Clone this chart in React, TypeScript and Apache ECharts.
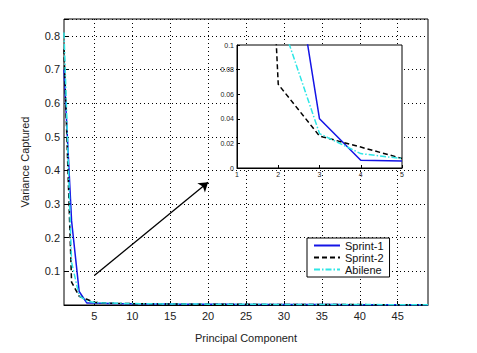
import React, { useEffect, useRef } from "react";
import * as echarts from "echarts";

const components: number[] = Array.from({ length: 49 }, (_, i) => i + 1);

const sprint1: number[] = [
  0.70, 0.25, 0.040, 0.0063, 0.0057, 0.0052, 0.0047, 0.0043, 0.0040, 0.0037,
  0.0034, 0.0032, 0.0030, 0.0028, 0.0027, 0.0026, 0.0025, 0.0024, 0.0023, 0.0022,
  0.0021, 0.0020, 0.0019, 0.0018, 0.0018, 0.0017, 0.0017, 0.0016, 0.0016, 0.0015,
  0.0015, 0.0014, 0.0014, 0.0013, 0.0013, 0.0012, 0.0012, 0.0011, 0.0011, 0.0010,
  0.0010, 0.0009, 0.0009, 0.0008, 0.0008, 0.0007, 0.0007, 0.0006, 0.0006,
];
const sprint2: number[] = [
  0.76, 0.068, 0.026, 0.017, 0.0078, 0.0065, 0.0056, 0.0050, 0.0045, 0.0041,
  0.0038, 0.0035, 0.0033, 0.0031, 0.0029, 0.0028, 0.0027, 0.0026, 0.0025, 0.0024,
  0.0023, 0.0022, 0.0021, 0.0020, 0.0020, 0.0019, 0.0018, 0.0018, 0.0017, 0.0017,
  0.0016, 0.0016, 0.0015, 0.0015, 0.0014, 0.0014, 0.0013, 0.0013, 0.0012, 0.0012,
  0.0011, 0.0011, 0.0010, 0.0010, 0.0009, 0.0009, 0.0008, 0.0008, 0.0007,
];
const abilene: number[] = [
  0.81, 0.127, 0.028, 0.0117, 0.0076, 0.0066, 0.0058, 0.0052, 0.0047, 0.0043,
  0.0040, 0.0037, 0.0035, 0.0033, 0.0031, 0.0030, 0.0029, 0.0028, 0.0027, 0.0026,
  0.0025, 0.0024, 0.0023, 0.0022, 0.0021, 0.0020, 0.0020, 0.0019, 0.0018, 0.0018,
  0.0017, 0.0017, 0.0016, 0.0016, 0.0015, 0.0015, 0.0014, 0.0014, 0.0013, 0.0013,
  0.0012, 0.0012, 0.0011, 0.0011, 0.0010, 0.0010, 0.0009, 0.0009, 0.0008,
];
const seriesNames: string[] = ["Sprint-1", "Sprint-2", "Abilene"];
const insetCount = 5;
const arrowStart: [number, number] = [5, 0.088];
const arrowEnd: [number, number] = [20, 0.365];

const FONT = "Arial, 'Liberation Sans', sans-serif";
const BLUE = "#1414e6";
const BLACK = "#000000";
const CYAN = "#2ee6e6";

export default function App() {
  const ref = useRef<HTMLDivElement>(null);
  useEffect(() => {
    if (!ref.current) return;
    const chart = echarts.init(ref.current, undefined, { renderer: "svg" });
    const every5 = (_i: number, v: string) => Number(v) % 5 === 0;
    const styles = [
      { color: BLUE, type: "solid" as any },
      { color: BLACK, type: [5, 3] as any },
      { color: CYAN, type: [6, 2, 1.5, 2] as any },
    ];
    const all = [sprint1, sprint2, abilene];
    const mainSeries = all.map((d, k) => ({
      name: seriesNames[k],
      type: "line",
      xAxisIndex: 0,
      yAxisIndex: 0,
      data: d,
      symbol: "none",
      z: 3,
      lineStyle: { color: styles[k].color, type: styles[k].type, width: 1.5 },
      itemStyle: { color: styles[k].color },
      ...(k === 0
        ? {
            markLine: {
              silent: true,
              symbol: ["none", "arrow"],
              symbolSize: 9,
              label: { show: false },
              lineStyle: { color: "#000", type: "solid", width: 1.3 },
              itemStyle: { color: "#000" },
              data: [
                [
                  { coord: [String(arrowStart[0]), arrowStart[1]], itemStyle: { color: "#000" } },
                  { coord: [String(arrowEnd[0]), arrowEnd[1]], itemStyle: { color: "#000" } },
                ],
              ],
            },
          }
        : {}),
    }));
    const insetSeries = all.map((d, k) => ({
      name: seriesNames[k],
      type: "line",
      xAxisIndex: 1,
      yAxisIndex: 1,
      data: d.slice(0, insetCount).map((v, i) => [components[i], v]),
      symbol: "none",
      clip: true,
      z: 10,
      lineStyle: { color: styles[k].color, type: styles[k].type, width: 1.5 },
      itemStyle: { color: styles[k].color },
    }));
    chart.setOption({
      animation: false,
      backgroundColor: "#fff",
      textStyle: { fontFamily: FONT },
      grid: [
        {
          left: 64,
          top: 19,
          width: 364,
          height: 286,
          show: true,
          borderColor: "#000",
          borderWidth: 1,
          z: 0,
        },
        {
          left: 237,
          top: 45,
          width: 165,
          height: 123,
          show: true,
          backgroundColor: "#fff",
          borderColor: "#000",
          borderWidth: 1,
          z: 5,
        },
      ],
      xAxis: [
        {
          type: "category",
          gridIndex: 0,
          data: components.map(String),
          boundaryGap: false,
          name: "Principal Component",
          nameLocation: "middle",
          nameGap: 27,
          nameTextStyle: { fontSize: 11, color: "#222", fontFamily: FONT },
          axisLine: { lineStyle: { color: "#000", width: 1 } },
          axisTick: { show: true, inside: true, interval: every5, length: 4, lineStyle: { color: "#000" } },
          axisLabel: { interval: every5, fontSize: 11, color: "#222", margin: 5, fontFamily: FONT },
          splitLine: { show: true, interval: every5, lineStyle: { color: "#000", type: [1, 3], width: 1 } },
        },
        {
          type: "value",
          gridIndex: 1,
          min: 1,
          max: 5,
          interval: 1,
          z: 6,
          axisLine: { onZero: false, lineStyle: { color: "#000", width: 1 } },
          axisTick: { show: true, inside: true, length: 3, lineStyle: { color: "#000" } },
          axisLabel: { fontSize: 7, color: "#222", margin: 3, fontFamily: FONT },
          splitLine: { show: false },
        },
      ],
      yAxis: [
        {
          type: "value",
          gridIndex: 0,
          min: 0,
          max: 0.85,
          interval: 0.1,
          name: "Variance Captured",
          nameLocation: "middle",
          nameGap: 34,
          nameTextStyle: { fontSize: 11, color: "#222", fontFamily: FONT },
          axisLine: { lineStyle: { color: "#000", width: 1 } },
          axisTick: { show: true, inside: true, length: 4, lineStyle: { color: "#000" } },
          axisLabel: {
            fontSize: 11,
            color: "#222",
            margin: 4,
            fontFamily: FONT,
            formatter: (v: number) => {
              const r = Math.round(v * 10) / 10;
              if (v <= 0 || Math.abs(v - r) > 1e-6) return "";
              return r.toFixed(1);
            },
          },
          splitLine: { show: true, lineStyle: { color: "#000", type: [1, 3], width: 1 } },
        },
        {
          type: "value",
          gridIndex: 1,
          min: 0,
          max: 0.1,
          interval: 0.02,
          z: 6,
          axisLine: { lineStyle: { color: "#000", width: 1 } },
          axisTick: { show: true, inside: true, length: 3, lineStyle: { color: "#000" } },
          axisLabel: {
            fontSize: 7,
            color: "#222",
            margin: 3,
            fontFamily: FONT,
            formatter: (v: number) => (v === 0 ? "0" : String(+v.toFixed(2))),
          },
          splitLine: { show: false },
        },
      ],
      legend: {
        data: seriesNames,
        orient: "vertical",
        left: 307,
        top: 238,
        itemWidth: 26,
        itemHeight: 8,
        itemGap: 1,
        padding: [2, 6, 2, 6],
        backgroundColor: "#fff",
        borderColor: "#000",
        borderWidth: 1,
        borderRadius: 0,
        itemStyle: { opacity: 0 },
        textStyle: { fontSize: 11, color: "#111", fontFamily: FONT },
        z: 8,
      },
      series: [...mainSeries, ...insetSeries],
    });
    return () => chart.dispose();
  }, []);
  return <div ref={ref} style={{ width: 477, height: 353, margin: -8 }} />;
}
